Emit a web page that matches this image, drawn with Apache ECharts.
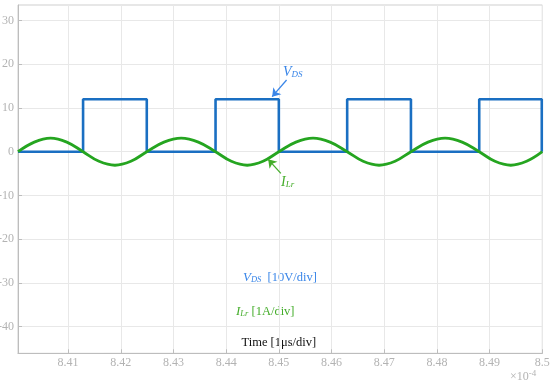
<!DOCTYPE html>
<html><head><meta charset="utf-8">
<script src="https://cdn.jsdelivr.net/npm/echarts@6/dist/echarts.min.js"></script>
<style>html,body{margin:0;padding:0;background:#fff}#c{width:550px;height:386px}</style>
</head><body><div id="c"></div>
<script>
// ---- data ----
const xTicks = [8.41, 8.42, 8.43, 8.44, 8.45, 8.46, 8.47, 8.48, 8.49, 8.5];
const yTicks = [-40, -30, -20, -10, 0, 10, 20, 30];
const vdsTime = [8.4005, 8.41285, 8.41285, 8.42494, 8.42494, 8.43799, 8.43799, 8.45000, 8.45000, 8.46297, 8.46297, 8.47507, 8.47507, 8.48803, 8.48803, 8.4999, 8.4999];
const vdsValue = [0, 0, 12, 12, 0, 0, 12, 12, 0, 0, 12, 12, 0, 0, 12, 12, 0];
const ilrTime = [8.4005, 8.40359, 8.40668, 8.40976, 8.41285,
  8.41587, 8.41890, 8.42192, 8.42494,
  8.42820, 8.43147, 8.43473, 8.43799,
  8.44099, 8.44400, 8.44700, 8.45000,
  8.45324, 8.45649, 8.45973, 8.46297,
  8.46600, 8.46902, 8.47205, 8.47507,
  8.47831, 8.48155, 8.48479, 8.48803,
  8.49102, 8.49402, 8.49701, 8.5000];
const ilrValue = [0, 2.2, 3.1, 2.2, 0,
  -2.2, -3.1, -2.2, 0,
  2.2, 3.1, 2.2, 0,
  -2.2, -3.1, -2.2, 0,
  2.2, 3.1, 2.2, 0,
  -2.2, -3.1, -2.2, 0,
  2.2, 3.1, 2.2, 0,
  -2.2, -3.1, -2.2, 0];
const vdsArrow = [[8.45147, 16.4], [8.44873, 12.58]];
const ilrArrow = [[8.45038, -4.94], [8.44797, -1.74]];

const SERIF = 'Liberation Serif';
const BLUE = '#1a6fc2', GREEN = '#25a520';
const BLUE_T = '#3a86e8', GREEN_T = '#44ad2a';
const GRAY = '#b3b3b3';

const chart = echarts.init(document.getElementById('c'), null, {renderer: 'canvas'});
const zip = (a, b) => a.map((v, i) => [v, b[i]]);

function arrowLine(pts) {
  return [{coord: pts[0], symbol: 'none'}, {coord: pts[1], symbol: 'arrow'}];
}
const sub = {
  v: {fontFamily: SERIF, fontStyle: 'italic', fontSize: 14, verticalAlign: 'bottom', lineHeight: 16},
  s: {fontFamily: SERIF, fontStyle: 'italic', fontSize: 9, verticalAlign: 'bottom', lineHeight: 12}
};
const sub2 = {
  v: {fontFamily: SERIF, fontStyle: 'italic', fontSize: 13, verticalAlign: 'bottom', lineHeight: 16},
  s: {fontFamily: SERIF, fontStyle: 'italic', fontSize: 8.5, verticalAlign: 'bottom', lineHeight: 12},
  t: {fontFamily: SERIF, fontSize: 12.5, verticalAlign: 'bottom', lineHeight: 16}
};

chart.setOption({
  animation: false,
  grid: {left: 18, right: 7.7, top: 5, bottom: 32.7, show: true, borderColor: '#cfcfcf', borderWidth: 1,
    containLabel: false, outerBoundsMode: 'none'},
  xAxis: {
    type: 'value', min: 8.4005, max: 8.5,
    axisLine: {show: true, onZero: false, lineStyle: {color: '#bdbdbd'}},
    axisTick: {show: true, inside: true, length: 4, customValues: xTicks, lineStyle: {color: '#bdbdbd'}},
    axisLabel: {customValues: xTicks, color: GRAY, fontFamily: SERIF, fontSize: 12, margin: 4,
      formatter: v => String(+v.toFixed(2))},
    splitLine: {show: true, customValues: xTicks, lineStyle: {color: '#e8e8e8', width: 1}}
  },
  yAxis: {
    type: 'value', min: -46.1, max: 33.55,
    axisLine: {show: true, lineStyle: {color: '#bdbdbd'}},
    axisTick: {show: true, inside: true, length: 4, customValues: yTicks, lineStyle: {color: '#bdbdbd'}},
    axisLabel: {customValues: yTicks, color: GRAY, fontFamily: SERIF, fontSize: 12, margin: 4},
    splitLine: {show: true, customValues: yTicks, lineStyle: {color: '#e8e8e8', width: 1}}
  },
  series: [
    {
      type: 'line', name: 'VDS', data: zip(vdsTime, vdsValue), showSymbol: false,
      lineStyle: {color: BLUE, width: 2.6}, z: 3,
      markLine: {silent: true, symbolSize: 8, label: {show: false},
        lineStyle: {color: BLUE_T, width: 1.3, type: 'solid'},
        data: [arrowLine(vdsArrow)]}
    },
    {
      type: 'line', name: 'ILr', data: zip(ilrTime, ilrValue), showSymbol: false, smooth: 0.4,
      lineStyle: {color: GREEN, width: 2.8}, z: 4,
      markLine: {silent: true, symbolSize: 8, label: {show: false},
        lineStyle: {color: GREEN_T, width: 1.3, type: 'solid'},
        data: [arrowLine(ilrArrow)]}
    }
  ],
  graphic: [
    {type: 'text', left: 283, top: 65, style: {text: '{v|V}{s|DS}', rich: sub, fill: BLUE_T}},
    {type: 'text', left: 281, top: 175, style: {text: '{v|I}{s|Lr}', rich: sub, fill: GREEN_T}},
    {type: 'text', left: 243, top: 271, style: {text: '{v|V}{s|DS}{t|  [10V/div]}', rich: sub2, fill: BLUE_T}},
    {type: 'text', left: 236, top: 305, style: {text: '{v|I}{s|Lr}{t| [1A/div]}', rich: sub2, fill: GREEN_T}},
    {type: 'text', left: 241.5, top: 336, style: {text: 'Time [1\u03bcs/div]', font: '12.5px "Liberation Serif"', fill: '#111'}},
    {type: 'text', left: 510, top: 369, style: {text: '{a|\u00d710}{b|-4}', fill: GRAY,
      rich: {a: {fontFamily: SERIF, fontSize: 12, verticalAlign: 'bottom', lineHeight: 14},
             b: {fontFamily: SERIF, fontSize: 9, verticalAlign: 'top', lineHeight: 14}}}}
  ]
});
</script></body></html>
